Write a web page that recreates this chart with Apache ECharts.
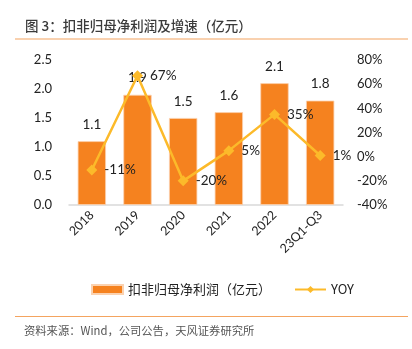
<!DOCTYPE html>
<html>
<head>
<meta charset="utf-8">
<script src="https://cdn.jsdelivr.net/npm/echarts@6/dist/echarts.min.js"></script>
<style>
  html, body { margin: 0; padding: 0; background: #fff; }
  #chart { width: 412px; height: 349px; }
</style>
</head>
<body>
<div id="chart"></div>
<script>
// Deducted non-recurring net profit attributable to parent (100M CNY) and YoY growth
const categories = ['2018', '2019', '2020', '2021', '2022', '23Q1-Q3'];
const profitValues = [1.1, 1.9, 1.5, 1.6, 2.1, 1.8];
const yoyValues = [-11, 67, -20, 5, 35, 1];
const leftTicks = [0, 2.5, 0.5];   // min, max, interval
const rightTicks = [-40, 80, 20];  // min, max, interval

const FONT = 'Lato, "Noto Sans CJK SC", sans-serif';
const CJK = '"Noto Sans CJK SC", sans-serif';

const chart = echarts.init(document.getElementById('chart'));
chart.setOption({
  animation: false,
  textStyle: { fontFamily: FONT },
  grid: { left: 69, right: 69, top: 60, bottom: 144, containLabel: false },
  graphic: [
    { type: 'text', left: 25, top: 19, style: { text: '图 3：扣非归母净利润及增速（亿元）', font: '500 13.5px ' + CJK, fill: '#3a3a3a' } },
    { type: 'rect', shape: { x: 15, y: 38.5, width: 393, height: 1 }, style: { fill: '#F4A460' } },
    { type: 'rect', shape: { x: 15, y: 316, width: 393, height: 1 }, style: { fill: '#F4A460' } },
    { type: 'text', left: 24, top: 325, style: { text: '资料来源：Wind，公司公告，天风证券研究所', font: '11.3px ' + CJK, fill: '#555' } }
  ],
  legend: {
    bottom: 48,
    left: 86,
    itemGap: 23,
    itemWidth: 31,
    itemHeight: 9,
    textStyle: { fontSize: 13, color: '#222', fontFamily: CJK },
    data: [
      { name: '扣非归母净利润（亿元）', icon: 'rect' },
      { name: 'YOY' }
    ]
  },
  xAxis: {
    type: 'category',
    data: categories,
    axisLine: { lineStyle: { color: '#d9d9d9', width: 1.5 } },
    axisTick: { show: false },
    axisLabel: { rotate: 45, fontSize: 12.5, color: '#222', margin: 8 }
  },
  yAxis: [
    {
      type: 'value', min: leftTicks[0], max: leftTicks[1], interval: leftTicks[2],
      splitLine: { show: false }, axisLine: { show: false }, axisTick: { show: false },
      axisLabel: { fontSize: 13, color: '#222', margin: 17, formatter: v => v.toFixed(1) }
    },
    {
      type: 'value', min: rightTicks[0], max: rightTicks[1], interval: rightTicks[2],
      splitLine: { show: false }, axisLine: { show: false }, axisTick: { show: false },
      axisLabel: { fontSize: 13, color: '#222', margin: 14, formatter: v => v + '%' }
    }
  ],
  series: [
    {
      name: '扣非归母净利润（亿元）',
      type: 'bar',
      data: profitValues,
      barCategoryGap: '38%',
      itemStyle: { color: '#F5821F', borderColor: '#FBD2B0', borderWidth: 0.8 },
      label: { show: true, position: 'top', distance: 10, fontSize: 13.5, color: '#222', formatter: p => p.value.toFixed(1) }
    },
    {
      name: 'YOY',
      type: 'line',
      yAxisIndex: 1,
      data: yoyValues,
      symbol: 'diamond',
      symbolSize: 11,
      lineStyle: { color: '#FCBA2A', width: 2.5 },
      itemStyle: { color: '#FCBA2A' },
      label: { show: true, position: 'right', distance: 7, fontSize: 13.5, color: '#222', formatter: p => p.value + '%' }
    }
  ]
});
</script>
</body>
</html>
